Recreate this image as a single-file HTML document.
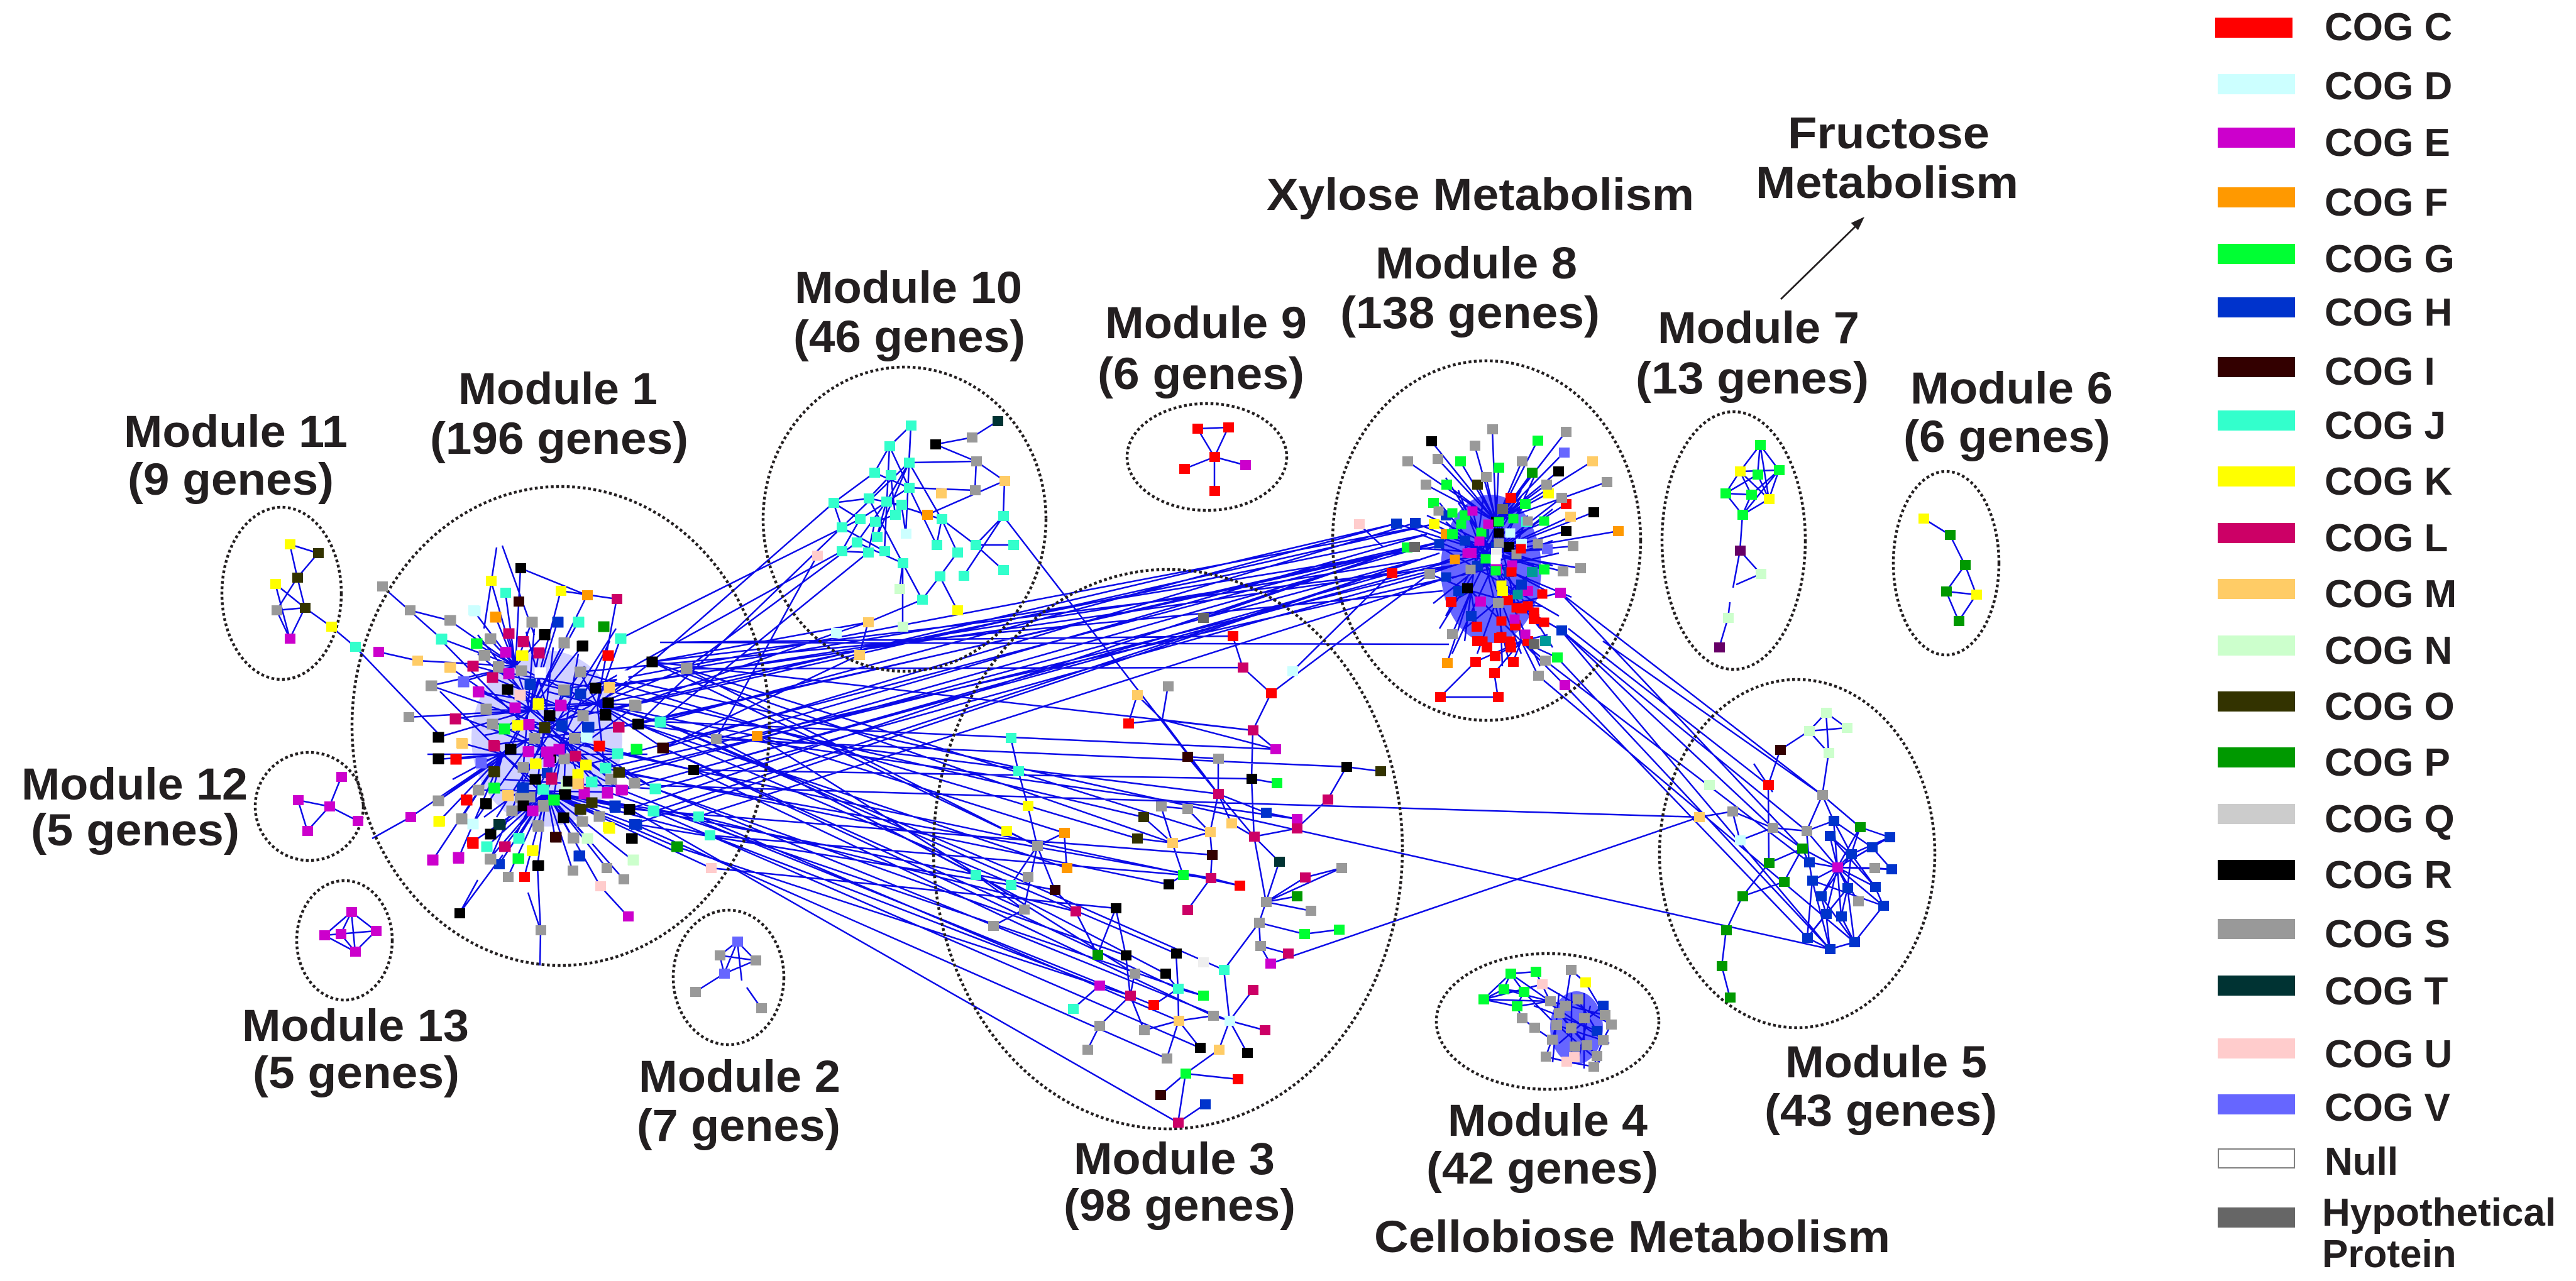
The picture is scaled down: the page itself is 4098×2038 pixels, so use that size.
<!DOCTYPE html>
<html><head><meta charset="utf-8"><style>
html,body{margin:0;padding:0;background:#fff;}
svg{display:block;}
</style></head><body>
<svg width="4098" height="2038" viewBox="0 0 4098 2038" xmlns="http://www.w3.org/2000/svg">
<rect width="4098" height="2038" fill="#fff"/>
<!-- dense core fills -->
<ellipse cx="2372" cy="905" rx="80" ry="118" fill="#0000ff" opacity="0.6"/>
<ellipse cx="870" cy="1175" rx="120" ry="140" fill="#0000ff" opacity="0.18"/>
<ellipse cx="2508" cy="1635" rx="42" ry="58" fill="#0000ff" opacity="0.6"/>
<!-- edges -->
<g fill="none" stroke="#0a0ae8" stroke-width="2.5">
<path d="M461 866L506 880M461 866L473 919M506 880L473 919M438 929L485 967M438 929L461 1016M473 919L440 971M473 919L485 967M440 971L485 967M440 971L461 1016M485 967L461 1016M485 967L527 997M527 997L565 1029M565 1029L700 1170
M543 1236L524 1283M474 1273L524 1283M474 1273L489 1322M489 1322L524 1283M524 1283L569 1306M592 1334L653 1300
M559 1451L516 1488M559 1451L598 1481M559 1451L542 1486M559 1451L565 1514M516 1488L598 1481M516 1488L565 1514M598 1481L565 1514M542 1486L565 1514
M1173 1498L1145 1520M1173 1498L1202 1528M1173 1498L1152 1549M1173 1498L1180 1560M1145 1520L1202 1528M1145 1520L1152 1549M1202 1528L1152 1549M1152 1549L1106 1578M1188 1571L1211 1604
M1905 682L1954 680M1905 682L1932 727M1954 680L1932 727M1932 727L1884 746M1932 727L1981 740M1932 727L1932 781
M3060 825L3102 851M3102 851L3126 899M3126 899L3096 941M3126 899L3144 946M3096 941L3144 946M3096 941L3116 988M3144 946L3116 988
M2800 708L2768 750M2800 708L2796 755M2800 708L2830 748M2800 708L2814 794M2768 750L2830 748M2768 750L2745 785M2768 750L2786 787M2768 750L2814 794M2796 755L2745 785M2796 755L2814 794M2830 748L2814 794M2830 748L2786 787M2745 785L2786 787M2745 785L2772 819M2786 787L2772 819M2814 794L2772 819M2830 748L2772 819M2772 819L2768 876M2768 876L2801 913M2768 876L2757 935M2801 913L2762 930M2752 958L2749 983M2749 983L2735 1030
M820 1060L828 904M820 1060L781 924M820 1060L804 943M820 1060L753 971M820 1060L788 981M820 1060L715 987M820 1060L702 1016M820 1060L757 1024M820 1060L779 1017M820 1060L664 1051M820 1060L685 1091M820 1060L737 1084M820 1060L809 1008M820 1060L866 1009M820 1060L846 989
M843 1130L887 989M843 1130L892 940M843 1130L934 947M843 1130L920 989M843 1130L927 1027M843 1130L897 1022M843 1130L857 1038M843 1130L760 1100M843 1130L724 1143M843 1130L650 1141M843 1130L697 1173M843 1130L773 1129M843 1130L802 1159M843 1130L811 1192
M950 1120L981 953M950 1120L987 1016M950 1120L1037 1053M950 1120L1091 1064M950 1120L1009 1121M950 1120L1014 1152M950 1120L1050 1148M950 1120L1139 1176M950 1120L1204 1171M950 1120L1055 1190M950 1120L962 1222M950 1120L983 1157M950 1120L922 1069
M900 1180L931 1217M900 1180L971 1239M900 1180L1103 1225M900 1180L1043 1255M900 1180L966 1260M900 1180L990 1257M900 1180L929 1260M900 1180L897 1264M900 1180L876 1206M900 1180L851 1215M900 1180L869 1196M900 1180L841 1152
M800 1200L697 1208M800 1200L725 1208M800 1200L697 1274M800 1200L699 1306M800 1200L734 1302M800 1200L760 1257M800 1200L785 1253M800 1200L734 1182M800 1200L765 1213M800 1200L688 1369M800 1200L729 1366M800 1200L653 1300M800 1200L785 1227
M870 1260L807 1265M870 1260L847 1290M870 1260L864 1281M870 1260L922 1287M870 1260L953 1299M870 1260L1001 1287M870 1260L1009 1311M870 1260L1040 1291M870 1260L1111 1299M870 1260L1129 1329M870 1260L1076 1347M870 1260L1131 1381M870 1260L965 1381M870 1260L992 1399M870 1260L1007 1369M870 1260L934 1334M870 1260L911 1334M870 1260L883 1332M870 1260L855 1313M870 1260L896 1301M870 1260L780 1327M870 1260L793 1311M870 1260L774 1347M870 1260L802 1347M870 1260L825 1333M870 1260L751 1340M870 1260L779 1366M870 1260L794 1375M870 1260L808 1395M870 1260L834 1395M870 1260L855 1378M870 1260L911 1385M870 1260L955 1410
M843 1130L900 1180M843 1130L800 1200M843 1130L950 1120M900 1180L870 1260M800 1200L870 1260M820 1060L843 1130M820 1060L950 1120M900 1180L950 1120
M731 1453L800 1360M860 1480L855 1378M859 1536L860 1480M999 1458L955 1410M608 933L702 1016M652 971L715 987M602 1037L664 1051M790 871L770 1000M799 868L850 1010M828 904L934 947M892 940L981 953M731 1453L760 1400M860 1480L840 1420
M760 1100L960 1136M785 1185L1014 1152M809 1071L946 1094M752 1059L896 1097M783 1078L927 1138M837 1005L873 1138M819 1126L967 1117M790 1150L990 1257M850 1000L830 1253M880 1030L850 1290M920 1040L880 1272M760 1257L966 1260M770 1170L1009 1121M730 1140L931 1217M800 1240L1043 1255M840 1160L1103 1225M870 1100L1050 1148M700 1100L900 1300M760 1010L940 1240M980 1000L790 1300M720 1240L1000 1090M680 1200L1030 1200M700 1017L880 1200M716 1062L960 1230M752 1311L930 1060M780 1367L900 1090M686 1091L940 1180M1011 1123L770 1300M1042 1255L800 1100M970 1020L820 1330M697 1274L990 1075M760 1040L1009 1246
M1037 1053L2214 912M1014 1152L2238 871M1050 1148L2221 833M1055 1190L2251 832M1043 1255L2274 913M1040 1291L2290 880M1009 1121L2281 834M983 1157L2300 860M967 1117L2270 850M946 1094L2310 900M969 1093L2260 890M922 1069L2295 940M1091 1064L2283 870M1103 1225L2320 890M962 1222L2300 920M990 1257L2214 912M1001 1287L2238 871M931 1217L2250 870M1009 1311L2290 880M927 1138L2221 833M1139 1176L2270 850M1204 1171L2300 860M985 1229L2310 900M971 1239L2260 890M896 1097L2281 834M1050 1022L2305 1025M1111 1299L2300 920
M1037 1053L1326 800M1014 1152L1339 839M1091 1064L1363 863M1050 1148L1381 879M1139 1176L1300 884M1009 1121L1330 1007M1055 1190L1367 1042M1037 1053L1381 990M946 1094L1339 877M987 1016L1368 826
M1103 1225L1930 1616M1043 1255L1956 1624M1040 1291L1909 1667M1111 1299L1875 1624M1009 1311L1856 1684M1001 1287L1874 1786M1129 1329L1749 1568M1076 1347L1798 1584M990 1257L1835 1599M966 1260L1914 1584M1055 1190L1874 1573M1050 1148L1947 1543M1014 1152L1871 1517M1139 1176L1854 1549M1204 1171L1805 1549M1043 1255L1791 1520M1131 1381L1775 1445M1111 1299L1711 1450M1040 1291L1678 1416M1055 1190L1629 1447M1009 1311L1608 1408M1139 1176L1552 1392M1050 1148L1635 1395M1014 1152L1697 1381M1204 1171L1693 1325M1037 1053L1601 1322M1091 1064L1650 1346M1103 1225L1972 1409M1129 1329L1882 1392M962 1222L1859 1407M985 1229L1926 1397M1001 1287L1928 1360M1037 1053L1865 1341M1091 1064L1925 1324M922 1069L1809 1334M946 1094L1819 1300
M1091 1064L1977 1062M1037 1053L1993 1162M1050 1148L2029 1192M1103 1225L1991 1239M1139 1176L2142 1220M1050 1022L1961 1012M1204 1171L1938 1263M1014 1152L2063 1303
M1050 1250L2703 1300M1000 1083L2911 1510M2021 1533L2703 1300
M1449 677L1415 710M1449 677L1446 736M1415 710L1391 752M1415 710L1446 776M1446 736L1410 798M1391 752L1326 800M1417 756L1424 819M1326 800L1382 793M1326 800L1339 839M1326 800L1368 826M1382 793L1434 803M1410 798L1363 863M1410 798L1395 854M1434 803L1441 849M1424 819L1392 830M1368 826L1339 877M1392 830L1381 879M1339 839L1407 877M1363 863L1436 896M1446 736L1498 826M1446 776L1490 867M1488 707L1546 696M1546 696L1587 670M1488 707L1553 734M1553 734L1551 780M1553 734L1598 765M1598 765L1596 821M1598 765L1475 819M1551 780L1446 776M1475 819L1498 826M1498 826L1552 867M1498 826L1523 879M1498 826L1490 867M1596 821L1552 867M1596 821L1533 916M1552 867L1612 867M1552 867L1596 907M1523 879L1495 917M1436 896L1467 954M1436 896L1431 937M1436 896L1436 997M1495 917L1523 971M1495 917L1467 954M1467 954L1381 990M1381 990L1330 1007M1381 990L1367 1042M1446 736L1553 734M1410 798L1475 819M1382 793L1436 896M1434 803L1424 819M1339 839L1446 736M1368 826L1446 776M1395 854L1446 736M1449 677L1441 849M1415 710L1407 877M1391 752L1446 776M1417 756L1382 793M1363 863L1410 798M1339 877L1381 879M1596 821L1938 1263
M2380 830L2277 702M2380 830L2374 683M2380 830L2346 709M2380 830L2323 734M2380 830L2287 730M2380 830L2239 734M2380 830L2384 744M2380 830L2350 771M2380 830L2364 759M2380 830L2301 771M2380 830L2268 771M2380 830L2446 701M2380 830L2491 687M2380 830L2421 734M2380 830L2437 752M2380 830L2488 720M2380 830L2533 734M2380 830L2479 750M2380 830L2403 792M2380 830L2463 785M2380 830L2460 771M2380 830L2556 767
M2370 880L2221 833M2370 880L2251 832M2370 880L2281 834M2162 834L2200 870M2370 880L2238 871M2370 880L2214 912M2370 880L2274 913M2370 880L2484 792M2370 880L2426 802M2370 880L2491 802M2370 880L2535 815M2370 880L2498 822M2370 880L2491 845M2370 880L2502 869M2370 880L2574 845M2370 880L2461 874M2370 880L2456 906M2370 880L2486 909M2370 880L2514 904
M2340 940L2334 936M2340 940L2308 958M2340 940L2310 1009M2340 940L2349 997M2340 940L2355 957M2340 940L2302 1055M2340 940L2274 913M2410 960L2482 943M2410 960L2383 959M2410 960L2484 1003M2410 960L2455 965
M2420 1020L2347 1053M2420 1020L2407 1053M2420 1020L2378 1044M2420 1020L2377 1071M2420 1020L2458 1051M2420 1020L2447 1075M2420 1020L2477 1046M2420 1020L2489 1090M2420 1020L2462 1010
M2370 880L2340 940M2370 880L2410 960M2370 880L2380 830M2340 940L2420 1020M2410 960L2420 1020M2340 940L2410 960M2380 830L2410 960M2291 1109L2383 1109M2383 1109L2377 1071M2291 1109L2347 1053
M2290 800L2450 1000M2300 850L2470 900M2320 780L2420 1040M2280 900L2460 830M2340 800L2400 1050M2360 790L2330 1020M2400 800L2300 980M2430 820L2350 1040M2300 830L2440 960M2310 920L2470 860M2350 840L2450 1060M2290 870L2480 980M2380 790L2390 1060M2420 790L2290 1000M2330 870L2460 940M2270 820L2440 900M2350 900L2420 780M2390 900L2320 800M2280 960L2470 810M2330 1000L2450 900M2300 760L2470 1030M2440 760L2310 1040M2260 850L2500 950M2260 930L2480 880
M2484 1003L2874 1322M2482 943L2899 1265M2489 1090L2875 1492M2477 1046L2911 1510M2484 1003L2820 1317M2458 1051L2878 1372M2482 943L2867 1350M2447 1075L2950 1499M2495 1000L2813 1249M2550 1020L2899 1265M2489 1010L2911 1510
M2214 912L2056 1068M2238 871L1914 983M2274 913L2022 1103
M1961 1012L1977 1062M1977 1062L2022 1103M2022 1103L1993 1162M1993 1162L2029 1192M1993 1162L1991 1239M1991 1239L2031 1246M1991 1239L1995 1331M1849 1145L1809 1106M1849 1145L1858 1092M1849 1145L1795 1151M1849 1145L1993 1162M1849 1145L2029 1192M1849 1145L1938 1263M1809 1106L1795 1151
M1889 1204L1938 1263M1938 1207L1938 1263M1938 1263L1959 1310M1938 1263L1925 1324M1938 1263L2014 1293M1938 1263L1995 1331M1995 1331L2063 1318M2063 1318L2112 1272M2112 1272L2142 1220M2142 1220L2196 1227M2063 1303L2063 1318M1995 1331L2035 1371M2035 1371L2014 1435M1995 1331L2014 1435M2014 1435L2076 1396M2076 1396L2134 1381M2014 1435L2063 1426M2014 1435L2085 1449M2014 1435L2003 1468M2003 1468L2075 1486M2075 1486L2130 1479M2003 1468L2005 1505M2005 1505L2049 1517M2005 1505L2021 1533M2003 1468L1947 1543M1947 1543L1956 1624M1956 1624L1993 1575M1956 1624L2012 1639M1956 1624L1984 1675M1956 1624L1939 1670M1956 1624L1930 1616M1875 1624L1930 1616M1875 1624L1874 1573M1875 1624L1856 1684M1875 1624L1820 1639M1875 1624L1909 1667M1939 1670L1886 1708M1886 1708L1969 1717M1886 1708L1846 1742M1886 1708L1874 1786M1874 1786L1917 1757M1874 1573L1914 1584M1874 1573L1835 1599M1874 1573L1854 1549M1871 1517L1874 1573M1798 1584L1805 1549M1798 1584L1749 1632M1798 1584L1749 1568M1798 1584L1791 1520M1798 1584L1820 1639M1749 1632L1730 1670M1749 1568L1707 1605M1791 1520L1775 1445M1775 1445L1746 1519
M1865 1341L1847 1283M1865 1341L1809 1334M1865 1341L1819 1300M1865 1341L1925 1324M1865 1341L1882 1392M1882 1392L1859 1407M1882 1392L1926 1397M1926 1397L1928 1360M1926 1397L1889 1448M1926 1397L1972 1409M1928 1360L1925 1324M1847 1283L1889 1287M1889 1287L1925 1324M1620 1227L1608 1174M1620 1227L1635 1282M1635 1282L1650 1346M1650 1346L1693 1325M1650 1346L1629 1447M1650 1346L1608 1408M1650 1346L1678 1416M1650 1346L1601 1322M1693 1325L1697 1381M1629 1447L1580 1473M1629 1447L1552 1392M1678 1416L1711 1450M1711 1450L1746 1519M2014 1293L2063 1303M1938 1207L1889 1204M1959 1310L1995 1331M2134 1381L2014 1435
M2403 1549L2443 1546M2403 1549L2360 1590M2403 1549L2424 1578M2403 1549L2392 1574M2443 1546L2453 1566M2443 1546L2466 1593M2360 1590L2392 1574M2360 1590L2413 1601M2360 1590L2466 1593M2392 1574L2424 1578M2424 1578L2413 1601M2413 1601L2466 1593M2499 1543L2522 1563M2499 1543L2490 1600M2466 1593L2499 1636M2476 1631L2469 1654M2421 1620L2441 1635M2441 1635L2469 1654M2469 1654L2459 1681M2459 1681L2492 1689M2492 1689L2535 1697M2535 1697L2550 1655M2550 1655L2563 1630M2563 1630L2553 1615M2553 1615L2522 1563M2510 1590L2540 1640M2480 1612L2540 1680M2476 1631L2550 1655M2499 1636L2524 1663M2466 1593L2553 1615M2440 1600L2540 1640M2480 1580L2470 1690M2500 1580L2500 1690M2530 1600L2510 1690M2453 1566L2563 1630M2392 1574L2466 1593M2424 1578L2476 1631M2413 1601L2421 1620M2360 1590L2453 1566M2403 1549L2466 1593M2470 1600L2560 1660M2480 1660L2550 1600M2465 1620L2545 1690M2520 1580L2520 1700
M2923 1380L2917 1306M2923 1380L2911 1330M2923 1380L3006 1332M2923 1380L2978 1348M2923 1380L2945 1359M2923 1380L2878 1372M2923 1380L3009 1383M2923 1380L2883 1401M2923 1380L2939 1413M2923 1380L2983 1411M2923 1380L2897 1426M2923 1380L2996 1441M2923 1380L2905 1454M2923 1380L2929 1458M2923 1380L2982 1381M2923 1380L2956 1434M2923 1380L2874 1322M2923 1380L2959 1316M2923 1380L2867 1350
M2945 1359L2911 1330M2945 1359L3006 1332M2945 1359L2917 1306M2945 1359L2959 1316M2945 1359L2897 1426M2945 1359L2983 1411M2945 1359L2939 1413
M2905 1454L2875 1492M2905 1454L2911 1510M2929 1458L2950 1499M2911 1510L2950 1499M2875 1492L2911 1510M2939 1413L2929 1458M2897 1426L2905 1454M2874 1322L2878 1372M2874 1322L2917 1306M2899 1265L2874 1322M2899 1265L2917 1306M2899 1265L2959 1316M2909 1198L2899 1265M2905 1134L2878 1163M2905 1134L2938 1158M2878 1163L2938 1158M2905 1134L2909 1198M2878 1163L2909 1198M2832 1193L2878 1163M2832 1193L2813 1249M2813 1249L2814 1373M2790 1215L2820 1260M2756 1291L2820 1317M2703 1300L2756 1291M2756 1291L2768 1337M2768 1337L2820 1317M2820 1317L2874 1322M2820 1317L2867 1350M2814 1373L2867 1350M2814 1373L2772 1426M2772 1426L2746 1480M2746 1480L2739 1537M2739 1537L2752 1587M2772 1426L2838 1403M2838 1403L2867 1350M2867 1350L2878 1372M2878 1372L2883 1401M2883 1401L2875 1492M2883 1401L2911 1510M2959 1316L3006 1332M2978 1348L3009 1383M2982 1381L3009 1383M2983 1411L2996 1441M2950 1499L2996 1441M2939 1413L2950 1499M2875 1492L2939 1413M2917 1306L2978 1348M2911 1330L2983 1411M2883 1401L2996 1441M2897 1426L2950 1499"/>
</g>
<!-- module ellipses -->
<g fill="none" stroke="#231f20" stroke-width="4.5" stroke-dasharray="4.5 4">
<ellipse cx="448" cy="944" rx="95" ry="137"/>
<ellipse cx="892" cy="1155" rx="332" ry="381"/>
<ellipse cx="1439" cy="826" rx="225" ry="242"/>
<ellipse cx="1920" cy="727" rx="127" ry="85"/>
<ellipse cx="2365" cy="860" rx="245" ry="286"/>
<ellipse cx="2758" cy="860" rx="114" ry="205"/>
<ellipse cx="3096" cy="896" rx="84" ry="146"/>
<ellipse cx="2859" cy="1358" rx="219" ry="277"/>
<ellipse cx="2462" cy="1625" rx="177" ry="108"/>
<ellipse cx="1858" cy="1351" rx="373" ry="445"/>
<ellipse cx="1159" cy="1555" rx="88" ry="107"/>
<ellipse cx="548" cy="1496" rx="76" ry="95"/>
<ellipse cx="492" cy="1283" rx="86" ry="86"/>
</g>
<!-- nodes -->
<g fill="none" stroke-width="16" stroke-linecap="square">
<path stroke="#ff0000" d="M1905 682h1M1954 680h1M1932 727h1M1884 746h1M1932 781h1M1961 1012h1M2022 1103h1M1795 1151h1M1972 1409h1M1835 1599h1M1969 1717h1M2403 792h1M2491 802h1M2214 912h1M2308 958h1M2349 997h1M2347 1053h1M2407 1053h1M2378 1044h1M2377 1071h1M2291 1109h1M2383 1109h1M2398 955h1M2420 968h1M2440 985h1M2410 995h1M2385 1015h1M2430 1020h1M2365 1030h1M2403 1030h1M2350 1020h1M967 1043h1M953 1187h1M725 1208h1M741 1272h1M751 1340h1M834 1395h1M2813 1249h1"/>
<path stroke="#ccffff" d="M753 971h1M932 1171h1M752 1311h1M2056 1068h1M1956 1624h1M1441 849h1M1330 1007h1M2768 1337h1M2420 865h1"/>
<path stroke="#cc00cc" d="M543 1236h1M474 1273h1M524 1283h1M569 1306h1M489 1322h1M559 1451h1M516 1488h1M542 1486h1M598 1481h1M565 1514h1M461 1016h1M1981 740h1M602 1037h1M804 1037h1M809 1071h1M760 1100h1M819 1126h1M891 1121h1M841 1152h1M841 1195h1M869 1196h1M966 1260h1M990 1257h1M847 1290h1M688 1369h1M729 1366h1M999 1458h1M653 1300h1M920 1246h1M2029 1192h1M2063 1303h1M2021 1533h1M1749 1568h1M2482 943h1M2355 957h1M2489 1090h1M2340 880h1M2380 905h1M2430 940h1M2923 1380h1"/>
<path stroke="#ff9900" d="M788 981h1M934 947h1M1204 1171h1M1693 1325h1M1697 1381h1M1475 819h1M2574 845h1M2302 1055h1M2300 850h1"/>
<path stroke="#00ff33" d="M757 1024h1M802 1159h1M1013 1192h1M785 1253h1M880 1272h1M825 1366h1M2031 1246h1M1882 1392h1M2075 1486h1M2130 1479h1M1914 1584h1M1886 1708h1M2446 701h1M2323 734h1M2384 744h1M2301 771h1M2426 802h1M2238 871h1M2456 906h1M2477 1046h1M2310 850h1M2330 820h1M2280 800h1M2800 708h1M2796 755h1M2830 748h1M2745 785h1M2786 787h1M2772 819h1M2403 1549h1M2443 1546h1M2360 1590h1M2392 1574h1M2424 1578h1M2413 1601h1"/>
<path stroke="#0033cc" d="M887 989h1M843 1090h1M923 1104h1M894 1154h1M934 1157h1M830 1253h1M978 1285h1M1009 1311h1M794 1375h1M922 1361h1M870 1230h1M900 1100h1M2014 1293h1M1917 1757h1M2221 833h1M2251 832h1M2484 1003h1M2300 820h1M2330 860h1M2350 900h1M2380 870h1M2320 940h1M2400 910h1M2360 850h1M2420 930h1M2340 980h1M2917 1306h1M2911 1330h1M3006 1332h1M2978 1348h1M2945 1359h1M2878 1372h1M3009 1383h1M2883 1401h1M2939 1413h1M2983 1411h1M2897 1426h1M2996 1441h1M2905 1454h1M2929 1458h1M2875 1492h1M2950 1499h1M2911 1510h1M2540 1640h1M2550 1600h1"/>
<path stroke="#330000" d="M825 957h1M1055 1190h1M883 1332h1M1889 1204h1M1928 1360h1M1678 1416h1M1846 1742h1M2832 1193h1"/>
<path stroke="#33ffcc" d="M565 1029h1M804 943h1M702 1016h1M920 989h1M987 1016h1M1050 1148h1M962 1222h1M940 1244h1M863 1255h1M1043 1255h1M1040 1291h1M1111 1299h1M1129 1329h1M774 1347h1M825 1333h1M1608 1174h1M1620 1227h1M1552 1392h1M1608 1408h1M1947 1543h1M1874 1573h1M1707 1605h1M1449 677h1M1415 710h1M1446 736h1M1391 752h1M1417 756h1M1446 776h1M1326 800h1M1382 793h1M1410 798h1M1434 803h1M1424 819h1M1368 826h1M1392 830h1M1498 826h1M1596 821h1M1339 839h1M1395 854h1M1363 863h1M1490 867h1M1552 867h1M1612 867h1M1339 877h1M1381 879h1M1407 877h1M1523 879h1M1436 896h1M1596 907h1M1495 917h1M1533 916h1M1467 954h1M2428 830h1"/>
<path stroke="#ffff00" d="M461 866h1M438 929h1M527 997h1M781 924h1M892 940h1M829 1043h1M856 1119h1M823 1154h1M851 1215h1M931 1217h1M967 1316h1M699 1306h1M846 1354h1M1635 1282h1M1601 1322h1M1523 971h1M2463 785h1M2281 834h1M2390 940h1M2768 750h1M2814 794h1M3060 825h1M3144 946h1M2522 1563h1"/>
<path stroke="#cc0066" d="M981 953h1M809 1008h1M832 1020h1M857 1038h1M752 1059h1M783 1078h1M724 1143h1M785 1185h1M983 1157h1M877 1237h1M929 1260h1M802 1347h1M1977 1062h1M1993 1162h1M1938 1263h1M1995 1331h1M2063 1318h1M2112 1272h1M1926 1397h1M2076 1396h1M1711 1450h1M1889 1448h1M2049 1517h1M1798 1584h1M1993 1575h1M2012 1639h1M1874 1786h1"/>
<path stroke="#ffcc66" d="M664 1051h1M715 1062h1M734 1182h1M969 1093h1M807 1265h1M1809 1106h1M1865 1341h1M1925 1324h1M1959 1310h1M1875 1624h1M1939 1670h1M1598 765h1M1497 785h1M1367 1042h1M1381 990h1M2533 734h1M2498 822h1M2703 1300h1"/>
<path stroke="#ccffcc" d="M1007 1369h1M934 1334h1M900 1248h1M1431 937h1M1436 997h1M2801 913h1M2749 983h1M2905 1134h1M2878 1163h1M2938 1158h1M2909 1198h1M2719 1249h1"/>
<path stroke="#333300" d="M506 880h1M473 919h1M485 967h1M866 1157h1M785 1227h1M985 1229h1M922 1287h1M1819 1300h1M1809 1334h1M2196 1227h1M2350 771h1"/>
<path stroke="#009900" d="M1076 1347h1M960 997h1M2063 1426h1M1746 1519h1M2437 752h1M3102 851h1M3126 899h1M3096 941h1M3116 988h1M2959 1316h1M2867 1350h1M2814 1373h1M2838 1403h1M2772 1426h1M2746 1480h1M2739 1537h1M2752 1587h1"/>
<path stroke="#000000" d="M828 904h1M866 1009h1M927 1027h1M1037 1053h1M807 1097h1M873 1138h1M962 1136h1M1014 1152h1M697 1173h1M811 1192h1M697 1208h1M876 1206h1M1103 1225h1M897 1264h1M772 1278h1M780 1327h1M896 1301h1M1001 1287h1M855 1378h1M1004 1334h1M731 1453h1M946 1094h1M1991 1239h1M2142 1220h1M1775 1445h1M1791 1520h1M1871 1517h1M1854 1549h1M1859 1407h1M1909 1667h1M1984 1675h1M1488 707h1M2277 702h1M2479 750h1M2535 815h1M2491 845h1M2334 936h1M2380 830h1M2400 870h1"/>
<path stroke="#999999" d="M440 971h1M608 933h1M652 971h1M715 987h1M846 989h1M779 1017h1M771 1042h1M897 1022h1M792 1060h1M829 1067h1M922 1069h1M1091 1064h1M685 1091h1M896 1097h1M1009 1121h1M773 1129h1M650 1141h1M927 1138h1M1139 1176h1M850 1174h1M913 1174h1M897 1208h1M832 1220h1M971 1239h1M760 1257h1M697 1274h1M827 1269h1M864 1281h1M953 1299h1M734 1302h1M855 1313h1M911 1334h1M779 1366h1M808 1395h1M911 1385h1M965 1381h1M992 1399h1M860 1480h1M1858 1092h1M1938 1207h1M1847 1283h1M1889 1287h1M1650 1346h1M1635 1395h1M2134 1381h1M2014 1435h1M2085 1449h1M1580 1473h1M1629 1447h1M2003 1468h1M2005 1505h1M1805 1549h1M1930 1616h1M1749 1632h1M1820 1639h1M1730 1670h1M1856 1684h1M1546 696h1M1553 734h1M1551 780h1M2374 683h1M2491 687h1M2346 709h1M2239 734h1M2287 730h1M2421 734h1M2556 767h1M2268 771h1M2364 759h1M2460 771h1M2484 792h1M2274 913h1M2514 904h1M2486 909h1M2502 869h1M2383 959h1M2310 1009h1M2458 1051h1M2447 1075h1M2899 1265h1M2756 1291h1M2820 1317h1M2874 1322h1M2982 1381h1M2956 1434h1M2499 1543h1M2466 1593h1M2421 1620h1M2441 1635h1M2469 1654h1M2459 1681h1M2535 1697h1M2553 1615h1M2563 1630h1M2550 1655h1M2524 1663h1M2476 1631h1M2499 1636h1M2490 1600h1M2510 1590h1M2480 1612h1M2520 1620h1M2540 1680h1M2505 1665h1M1145 1520h1M1202 1528h1M1106 1578h1M1211 1604h1"/>
<path stroke="#003333" d="M793 1311h1M2035 1371h1M1587 670h1"/>
<path stroke="#ffcccc" d="M827 1105h1M1131 1381h1M955 1410h1M1300 884h1M2162 834h1M2453 1566h1M2492 1689h1M2504 1682h1"/>
<path stroke="#6666ff" d="M737 1084h1M765 1213h1M2488 720h1M2461 874h1M1173 1498h1M1152 1549h1"/>
<path stroke="#666666" d="M1914 983h1M2390 810h1M2440 1025h1M2250 870h1"/>
<path stroke="#009999" d="M2437 910h1M2458 1020h1"/>
<path stroke="#eeeeee" d="M1914 1531h1M2380 880h1"/>
<path stroke="#660066" d="M2768 876h1M2735 1030h1"/>
</g>
<!-- Module 8 core extra nodes -->
<g fill="none" stroke-width="15" stroke-linecap="square">
<path stroke="#00ff33" d="M2310 816h1M2324 834h1M2384 830h1M2407 825h1M2456 829h1M2356 847h1M2363 889h1M2379 908h1"/>
<path stroke="#ff9900" d="M2314 890h1"/>
<path stroke="#999999" d="M2288 813h1M2430 829h1M2384 864h1M2412 882h1M2446 865h1M2339 906h1"/>
<path stroke="#cc00cc" d="M2342 813h1M2367 834h1M2353 861h1M2334 880h1M2405 899h1M2409 985h1M2426 1009h1"/>
<path stroke="#000000" d="M2384 848h1"/>
<path stroke="#ccffff" d="M2402 848h1"/>
<path stroke="#0033cc" d="M2289 865h1M2300 918h1"/>
<path stroke="#ffffff" d="M2379 890h1"/>
<path stroke="#ff0000" d="M2419 873h1M2404 910h1M2453 945h1M2430 964h1M2412 967h1M2440 974h1M2388 988h1M2456 990h1M2358 1020h1M2388 1013h1M2402 1020h1"/>
<path stroke="#009999" d="M2437 910h1M2414 946h1M2458 1020h1"/>
<path stroke="#ffff00" d="M2388 931h1"/>
</g>
<!-- Module 1 core detailed nodes -->
<g fill="none" stroke-width="17" stroke-linecap="square">
<path stroke="#ccffff" d="M755 972h1M933 1173h1M752 1311h1"/>
<path stroke="#ff9900" d="M788 982h1"/>
<path stroke="#999999" d="M716 987h1M846 990h1M780 1016h1M897 1023h1M770 1043h1M1092 1063h1M793 1062h1M829 1067h1M923 1069h1M686 1091h1M897 1098h1M773 1128h1M1011 1123h1M927 1139h1M783 1152h1M850 1175h1M914 1175h1M897 1207h1M832 1221h1M972 1240h1M1009 1246h1M761 1257h1M697 1274h1M842 1268h1M864 1283h1M814 1290h1M734 1303h1M856 1315h1M926 1307h1M953 1299h1M912 1333h1M780 1367h1"/>
<path stroke="#0033cc" d="M887 990h1M843 1088h1M923 1104h1M893 1155h1M936 1157h1M832 1253h1M978 1282h1M1012 1312h1M921 1362h1"/>
<path stroke="#33ffcc" d="M920 990h1M702 1017h1M987 1016h1M1050 1149h1M982 1199h1M963 1222h1M941 1244h1M864 1256h1M1042 1255h1M1039 1290h1M825 1334h1M774 1347h1"/>
<path stroke="#009900" d="M960 997h1M1077 1347h1"/>
<path stroke="#cc0066" d="M809 1008h1M832 1021h1M857 1039h1M752 1060h1M783 1078h1M724 1144h1M984 1157h1M786 1187h1M915 1203h1M877 1240h1M803 1347h1"/>
<path stroke="#000000" d="M866 1010h1M926 1028h1M1037 1053h1M807 1097h1M947 1095h1M967 1118h1M874 1139h1M963 1138h1M1015 1152h1M697 1173h1M812 1192h1M697 1207h1M851 1240h1M904 1243h1M899 1264h1M773 1279h1M832 1282h1M1001 1288h1M896 1301h1M780 1327h1M1005 1334h1M856 1377h1"/>
<path stroke="#00ff33" d="M758 1024h1M802 1160h1M1012 1192h1M786 1254h1M881 1273h1M824 1366h1"/>
<path stroke="#cc00cc" d="M804 1038h1M809 1072h1M761 1101h1M819 1126h1M892 1123h1M841 1153h1M840 1196h1M871 1196h1M889 1192h1M873 1212h1M929 1263h1M966 1262h1M988 1257h1M847 1290h1M688 1368h1M729 1364h1"/>
<path stroke="#ffff00" d="M831 1043h1M856 1121h1M823 1154h1M852 1215h1M919 1232h1M932 1217h1M698 1307h1M969 1318h1M847 1353h1"/>
<path stroke="#ff0000" d="M967 1043h1M953 1187h1M725 1208h1M742 1273h1M752 1342h1"/>
<path stroke="#ffcc66" d="M716 1062h1M969 1094h1M735 1183h1M919 1247h1M808 1266h1"/>
<path stroke="#6666ff" d="M737 1085h1M765 1214h1"/>
<path stroke="#ffcccc" d="M827 1106h1"/>
<path stroke="#333300" d="M866 1158h1M786 1228h1M984 1229h1M941 1277h1M923 1288h1"/>
<path stroke="#330000" d="M1054 1190h1M884 1332h1"/>
<path stroke="#003333" d="M795 1312h1"/>
<path stroke="#ccffcc" d="M934 1334h1M1007 1368h1"/>
<path stroke="#ffffff" d="M859 1070h1M990 1075h1"/>
</g>
<!-- arrow -->
<line x1="2833" y1="476" x2="2955" y2="357" stroke="#231f20" stroke-width="2.8"/>
<polygon points="2966,345 2955.9,366.1 2944.7,354.7" fill="#231f20"/>
<!-- labels -->
<g font-family="'Liberation Sans', Arial, sans-serif" font-weight="bold" fill="#231f20" font-size="71">
<text x="197" y="711" textLength="356" lengthAdjust="spacingAndGlyphs">Module 11</text>
<text x="203" y="787" textLength="328" lengthAdjust="spacingAndGlyphs">(9 genes)</text>
<text x="729" y="643" textLength="317" lengthAdjust="spacingAndGlyphs">Module 1</text>
<text x="684" y="722" textLength="411" lengthAdjust="spacingAndGlyphs">(196 genes)</text>
<text x="1264" y="482" textLength="362" lengthAdjust="spacingAndGlyphs">Module 10</text>
<text x="1262" y="560" textLength="369" lengthAdjust="spacingAndGlyphs">(46 genes)</text>
<text x="1758" y="538" textLength="321" lengthAdjust="spacingAndGlyphs">Module 9</text>
<text x="1746" y="619" textLength="329" lengthAdjust="spacingAndGlyphs">(6 genes)</text>
<text x="2015" y="334" textLength="680" lengthAdjust="spacingAndGlyphs">Xylose Metabolism</text>
<text x="2844" y="236" textLength="321" lengthAdjust="spacingAndGlyphs">Fructose</text>
<text x="2793" y="315" textLength="418" lengthAdjust="spacingAndGlyphs">Metabolism</text>
<text x="2188" y="443" textLength="321" lengthAdjust="spacingAndGlyphs">Module 8</text>
<text x="2132" y="522" textLength="413" lengthAdjust="spacingAndGlyphs">(138 genes)</text>
<text x="2637" y="546" textLength="321" lengthAdjust="spacingAndGlyphs">Module 7</text>
<text x="2602" y="626" textLength="371" lengthAdjust="spacingAndGlyphs">(13 genes)</text>
<text x="3039" y="642" textLength="322" lengthAdjust="spacingAndGlyphs">Module 6</text>
<text x="3028" y="719" textLength="329" lengthAdjust="spacingAndGlyphs">(6 genes)</text>
<text x="34" y="1272" textLength="360" lengthAdjust="spacingAndGlyphs">Module 12</text>
<text x="49" y="1345" textLength="332" lengthAdjust="spacingAndGlyphs">(5 genes)</text>
<text x="385" y="1656" textLength="361" lengthAdjust="spacingAndGlyphs">Module 13</text>
<text x="402" y="1731" textLength="329" lengthAdjust="spacingAndGlyphs">(5 genes)</text>
<text x="1016" y="1737" textLength="321" lengthAdjust="spacingAndGlyphs">Module 2</text>
<text x="1013" y="1815" textLength="324" lengthAdjust="spacingAndGlyphs">(7 genes)</text>
<text x="1708" y="1868" textLength="320" lengthAdjust="spacingAndGlyphs">Module 3</text>
<text x="1692" y="1942" textLength="369" lengthAdjust="spacingAndGlyphs">(98 genes)</text>
<text x="2303" y="1807" textLength="318" lengthAdjust="spacingAndGlyphs">Module 4</text>
<text x="2269" y="1883" textLength="369" lengthAdjust="spacingAndGlyphs">(42 genes)</text>
<text x="2840" y="1714" textLength="321" lengthAdjust="spacingAndGlyphs">Module 5</text>
<text x="2807" y="1791" textLength="370" lengthAdjust="spacingAndGlyphs">(43 genes)</text>
<text x="2186" y="1992" textLength="821" lengthAdjust="spacingAndGlyphs">Cellobiose Metabolism</text>
</g>
<!-- legend swatches -->
<g>
<rect x="3524" y="28" width="123" height="32" fill="#ff0000"/>
<rect x="3528" y="118" width="123" height="32" fill="#ccffff"/>
<rect x="3528" y="203" width="123" height="32" fill="#cc00cc"/>
<rect x="3528" y="298" width="123" height="32" fill="#ff9900"/>
<rect x="3528" y="388" width="123" height="32" fill="#00ff33"/>
<rect x="3528" y="473" width="123" height="32" fill="#0033cc"/>
<rect x="3528" y="568" width="123" height="32" fill="#330000"/>
<rect x="3528" y="653" width="123" height="32" fill="#33ffcc"/>
<rect x="3528" y="742" width="123" height="32" fill="#ffff00"/>
<rect x="3528" y="832" width="123" height="32" fill="#cc0066"/>
<rect x="3528" y="921" width="123" height="32" fill="#ffcc66"/>
<rect x="3528" y="1011" width="123" height="32" fill="#ccffcc"/>
<rect x="3528" y="1100" width="123" height="32" fill="#333300"/>
<rect x="3528" y="1189" width="123" height="32" fill="#009900"/>
<rect x="3528" y="1279" width="123" height="32" fill="#cccccc"/>
<rect x="3528" y="1368" width="123" height="32" fill="#000000"/>
<rect x="3528" y="1462" width="123" height="32" fill="#999999"/>
<rect x="3528" y="1552" width="123" height="32" fill="#003333"/>
<rect x="3528" y="1652" width="123" height="32" fill="#ffcccc"/>
<rect x="3528" y="1741" width="123" height="32" fill="#6666ff"/>
<rect x="3529" y="1828" width="121" height="30" fill="#ffffff" stroke="#808080" stroke-width="2"/>
<rect x="3528" y="1921" width="123" height="32" fill="#666666"/>
</g>
<g font-family="'Liberation Sans', Arial, sans-serif" font-weight="bold" fill="#231f20" font-size="62">
<text x="3698" y="64">COG C</text>
<text x="3698" y="158">COG D</text>
<text x="3698" y="248">COG E</text>
<text x="3698" y="343">COG F</text>
<text x="3698" y="433">COG G</text>
<text x="3698" y="518">COG H</text>
<text x="3698" y="612">COG I</text>
<text x="3698" y="698">COG J</text>
<text x="3698" y="787">COG K</text>
<text x="3698" y="877">COG L</text>
<text x="3698" y="966">COG M</text>
<text x="3698" y="1056">COG N</text>
<text x="3698" y="1145">COG O</text>
<text x="3698" y="1234">COG P</text>
<text x="3698" y="1324">COG Q</text>
<text x="3698" y="1413">COG R</text>
<text x="3698" y="1507">COG S</text>
<text x="3698" y="1598">COG T</text>
<text x="3698" y="1698">COG U</text>
<text x="3698" y="1783">COG V</text>
<text x="3698" y="1869">Null</text>
<text x="3694" y="1950">Hypothetical</text>
<text x="3694" y="2016">Protein</text>
</g>
</svg>
</body></html>
